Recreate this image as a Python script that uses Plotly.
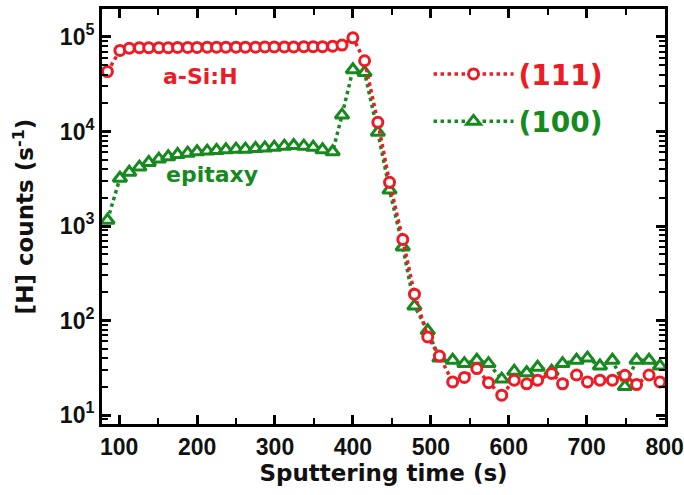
import plotly.graph_objects as go

# Sputtering time (s)
time_s = [85, 101, 113, 126, 138, 151, 163, 175, 188, 200, 213, 225, 237, 250, 262,
          275, 287, 299, 312, 324, 337, 349, 361, 374, 386, 400, 415, 432, 447, 464,
          479, 496, 511, 528, 543, 559, 574, 591, 607, 623, 637, 655, 669, 687, 701,
          717, 733, 749, 764, 780, 794]

# (111) a-Si:H  [H] counts (s^-1)
h111 = [43000, 72000, 76000, 77000, 77000, 77000, 77000, 77500, 77500, 77500, 78000,
        78000, 78000, 78000, 78000, 78000, 78500, 78500, 78500, 78500, 79000, 79000,
        79000, 80000, 82000, 98000, 56000, 12500, 2900, 720, 190, 67, 42, 22.4, 25,
        31, 22, 16.2, 23.4, 21.4, 23.4, 27.5, 21.4, 26.5, 22.4, 23.4, 23.4, 26.3, 21,
        26.5, 22.4]

# (100) epitaxy
h100 = [1150, 3200, 3700, 4200, 4700, 5100, 5400, 5700, 5900, 6100, 6200, 6300, 6400,
        6500, 6500, 6600, 6700, 6800, 7000, 7100, 7000, 6800, 6400, 6100, 14900, 45000,
        42000, 9800, 2400, 600, 142, 78, 40, 38, 35, 38, 35, 24, 29, 28, 32, 29, 35,
        38, 40, 33, 38, 20, 38, 38, 33]

x_ticks = [100, 200, 300, 400, 500, 600, 700, 800]
y_tickvals = [10, 100, 1000, 10000, 100000]
y_ticktext = ["10<sup>1</sup>", "10<sup>2</sup>", "10<sup>3</sup>", "10<sup>4</sup>", "10<sup>5</sup>"]

RED = "#ed1c24"
GREEN = "#178a1f"
FONT = "DejaVu Sans"
TICKFONT = "Liberation Sans, Arial, sans-serif"

fig = go.Figure()
fig.add_trace(go.Scatter(
    x=time_s, y=h100, mode="lines+markers", legendgroup="g100", legendrank=2,
    name="<b><span style='color:%s'>(100)</span></b>" % GREEN,
    line=dict(color=GREEN, width=3.5, dash="dot"),
    marker=dict(symbol="triangle-up", size=12, color="white", line=dict(width=3, color=GREEN)),
))
fig.add_trace(go.Scatter(
    x=time_s, y=h111, mode="lines+markers", legendgroup="g111", legendrank=1,
    name="<b><span style='color:%s'>(111)</span></b>" % RED,
    line=dict(color=RED, width=3.5, dash="dot"),
    marker=dict(symbol="circle", size=10, color="white", line=dict(width=3, color=RED)),
))

fig.add_annotation(x=204, y=4.587, text="<b>a-Si:H</b>", showarrow=False,
                   font=dict(family=FONT, size=22, color=RED), xref="x", yref="y")
fig.add_annotation(x=219, y=3.54, text="<b>epitaxy</b>", showarrow=False,
                   font=dict(family=FONT, size=22, color=GREEN), xref="x", yref="y")

axis_common = dict(
    showline=True, linecolor="black", linewidth=3, mirror="ticks",
    ticks="inside", tickcolor="black", tickwidth=2.5, ticklen=9,
    showgrid=False, zeroline=False, automargin=False, ticklabeloverflow="allow",
    tickfont=dict(family=TICKFONT, size=23, color="#111"),
)

fig.update_xaxes(
    range=[78, 800.5], tickvals=x_ticks, ticktext=["<b>%d</b>" % v for v in x_ticks],
    minor=dict(ticks="inside", ticklen=6, tickwidth=2, tickcolor="black", dtick=50, tick0=0),
    title=dict(text="<b>Sputtering time (s)</b>", font=dict(family=FONT, size=23, color="#111"), standoff=6),
    **axis_common,
)
fig.update_yaxes(
    type="log", range=[0.905, 5.296], tickvals=y_tickvals,
    ticktext=["<b>%s</b>" % t for t in y_ticktext],
    minor=dict(ticks="inside", ticklen=6, tickwidth=2, tickcolor="black", dtick="D1"),
    title=dict(text="<b>[H] counts (s<sup>-1</sup>)</b>", font=dict(family=FONT, size=23, color="#111"), standoff=20),
    **axis_common,
)

fig.update_layout(
    width=684, height=495,
    margin=dict(l=102, r=19, t=9, b=71),
    paper_bgcolor="white", plot_bgcolor="white",
    showlegend=True,
    legend=dict(x=0.58, y=0.903, xanchor="left", yanchor="top",
                traceorder="grouped", bgcolor="rgba(0,0,0,0)",
                font=dict(family=FONT, size=28), itemwidth=80, tracegroupgap=8),
)

fig.write_html("out.html", config={"displayModeBar": False},
               post_script="document.body.style.margin='0';document.body.style.overflow='hidden';")
